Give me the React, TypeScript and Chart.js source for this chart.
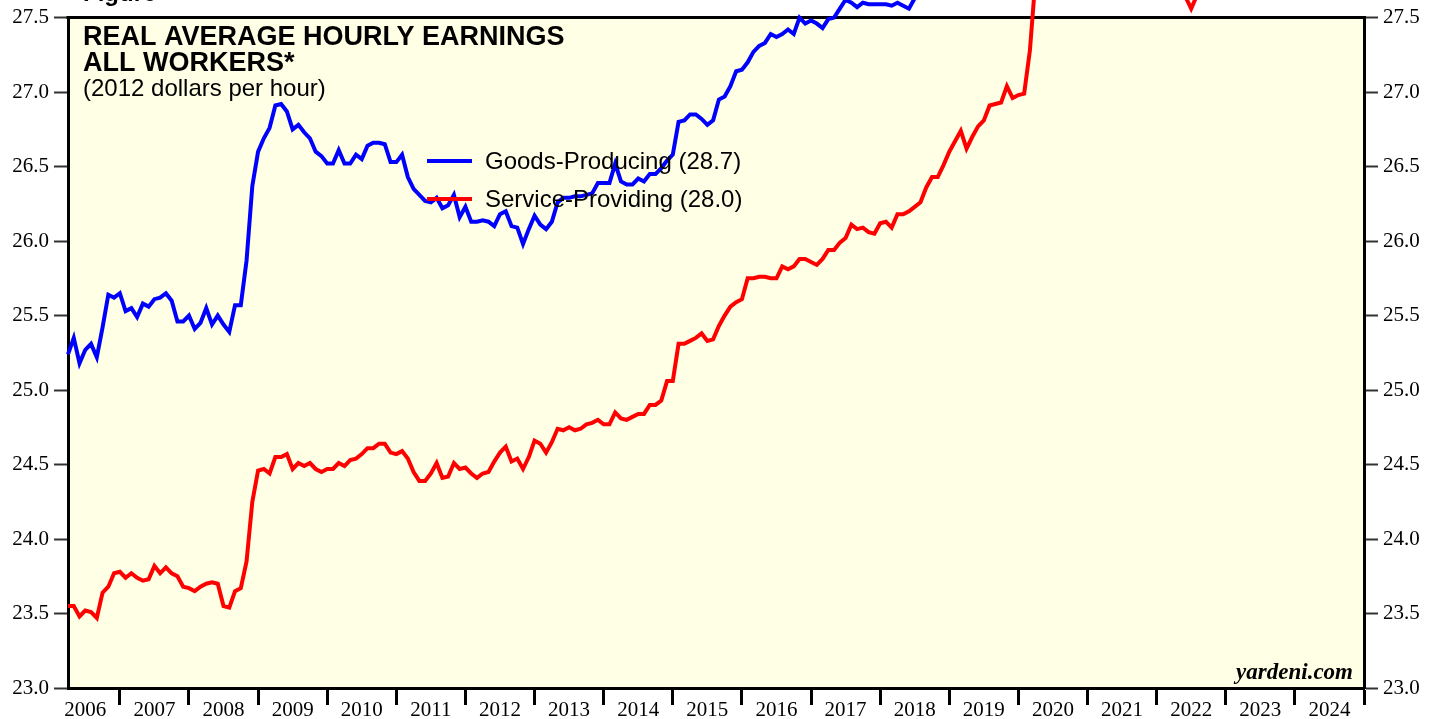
import React, { useEffect, useRef } from 'react';
import { Chart, registerables } from 'chart.js';
Chart.register(...registerables);

// Monthly data, index 0 = March 2006 (month-end), last = Nov 2024
const goodsProducing: number[] = [
  25.24, 25.35, 25.18, 25.27, 25.31, 25.22, 25.42, 25.64, 25.62, 25.65,
  25.53, 25.55, 25.49, 25.58, 25.56, 25.61, 25.62, 25.65, 25.60, 25.46,
  25.46, 25.50, 25.41, 25.45, 25.55, 25.44, 25.50, 25.44, 25.39, 25.57,
  25.57, 25.87, 26.37, 26.60, 26.69, 26.76, 26.91, 26.92, 26.87, 26.75,
  26.78, 26.73, 26.69, 26.60, 26.57, 26.52, 26.52, 26.61, 26.52, 26.52,
  26.58, 26.55, 26.64, 26.66, 26.66, 26.65, 26.53, 26.53, 26.58, 26.43,
  26.35, 26.31, 26.27, 26.26, 26.29, 26.22, 26.24, 26.31, 26.16, 26.23,
  26.13, 26.13, 26.14, 26.13, 26.10, 26.18, 26.20, 26.10, 26.09, 25.98,
  26.08, 26.17, 26.11, 26.08, 26.13, 26.26, 26.29, 26.29, 26.30, 26.30,
  26.31, 26.32, 26.39, 26.39, 26.39, 26.52, 26.40, 26.38, 26.38, 26.42,
  26.40, 26.45, 26.45, 26.49, 26.54, 26.58, 26.80, 26.81, 26.85, 26.85,
  26.82, 26.78, 26.81, 26.95, 26.97, 27.04, 27.14, 27.15, 27.20, 27.27,
  27.31, 27.33, 27.39, 27.37, 27.39, 27.42, 27.39, 27.50, 27.46, 27.48,
  27.46, 27.43, 27.49, 27.50, 27.56, 27.62, 27.60, 27.57, 27.60, 27.59,
  27.59, 27.59, 27.59, 27.58, 27.60, 27.58, 27.56, 27.63, 27.68, 27.70,
  27.66, 27.72, 27.75, 27.74, 27.80, 27.82, 27.78, 27.85, 27.88, 27.86,
  27.92, 27.95, 27.93, 27.98, 28.00, 27.97, 28.05, 28.10, 28.35, 28.95,
  28.70, 28.52, 28.48, 28.45, 28.50, 28.46, 28.48, 28.52, 28.45, 28.40,
  28.30, 28.22, 28.15, 28.12, 28.10, 28.05, 28.02, 27.98, 27.95, 27.92,
  27.90, 27.85, 27.80, 27.82, 27.75, 27.70, 27.76, 27.80, 27.82, 27.84,
  27.86, 27.90, 27.93, 27.95, 27.98, 28.02, 28.05, 28.10, 28.12, 28.15,
  28.20, 28.25, 28.28, 28.32, 28.35, 28.38, 28.42, 28.45, 28.50, 28.52,
  28.55, 28.60, 28.62, 28.66, 28.70,
];

const serviceProviding: number[] = [
  23.55, 23.55, 23.48, 23.52, 23.51, 23.47, 23.64, 23.68, 23.77, 23.78,
  23.74, 23.77, 23.74, 23.72, 23.73, 23.82, 23.77, 23.81, 23.77, 23.75,
  23.68, 23.67, 23.65, 23.68, 23.70, 23.71, 23.70, 23.55, 23.54, 23.65,
  23.67, 23.85, 24.25, 24.46, 24.47, 24.44, 24.55, 24.55, 24.57, 24.47,
  24.51, 24.49, 24.51, 24.47, 24.45, 24.47, 24.47, 24.51, 24.49, 24.53,
  24.54, 24.57, 24.61, 24.61, 24.64, 24.64, 24.58, 24.57, 24.59, 24.54,
  24.45, 24.39, 24.39, 24.44, 24.51, 24.41, 24.42, 24.51, 24.47, 24.48,
  24.44, 24.41, 24.44, 24.45, 24.52, 24.58, 24.62, 24.52, 24.54, 24.47,
  24.55, 24.66, 24.64, 24.58, 24.65, 24.74, 24.73, 24.75, 24.73, 24.74,
  24.77, 24.78, 24.80, 24.77, 24.77, 24.85, 24.81, 24.80, 24.82, 24.84,
  24.84, 24.90, 24.90, 24.93, 25.06, 25.06, 25.31, 25.31, 25.33, 25.35,
  25.38, 25.33, 25.34, 25.43, 25.50, 25.56, 25.59, 25.61, 25.75, 25.75,
  25.76, 25.76, 25.75, 25.75, 25.83, 25.81, 25.83, 25.88, 25.88, 25.86,
  25.84, 25.88, 25.94, 25.94, 25.99, 26.02, 26.11, 26.08, 26.09, 26.06,
  26.05, 26.12, 26.13, 26.09, 26.18, 26.18, 26.20, 26.23, 26.26, 26.36,
  26.43, 26.43, 26.51, 26.60, 26.67, 26.74, 26.62, 26.70, 26.77, 26.81,
  26.91, 26.92, 26.93, 27.04, 26.96, 26.98, 26.99, 27.28, 27.78, 29.30,
  28.90, 28.60, 28.55, 28.50, 28.50, 28.45, 28.45, 28.50, 28.40, 28.20,
  28.10, 28.00, 27.95, 27.92, 27.90, 27.85, 27.80, 27.78, 27.74, 27.72,
  27.70, 27.68, 27.67, 27.66, 27.64, 27.56, 27.65, 27.67, 27.66, 27.68,
  27.70, 27.72, 27.74, 27.73, 27.76, 27.78, 27.80, 27.82, 27.83, 27.85,
  27.86, 27.88, 27.90, 27.92, 27.93, 27.94, 27.95, 27.96, 27.97, 27.98,
  27.98, 27.99, 28.00, 28.00, 28.00,
];

const years: number[] = [
  2006, 2007, 2008, 2009, 2010, 2011, 2012, 2013, 2014, 2015,
  2016, 2017, 2018, 2019, 2020, 2021, 2022, 2023, 2024,
];
const yTickValues: number[] = [23.0, 23.5, 24.0, 24.5, 25.0, 25.5, 26.0, 26.5, 27.0, 27.5];

const seriesNames = ['Goods-Producing (28.7)', 'Service-Providing (28.0)'];
const titleLines = ['REAL AVERAGE HOURLY EARNINGS', 'ALL WORKERS*'];
const subtitle = '(2012 dollars per hour)';

// month index helpers (index 0 = Mar 2006)
const FIRST_YEAR = 2006;
const FIRST_MONTH = 3; // March
const monthIndex = (year: number, month: number) => (year - FIRST_YEAR) * 12 + (month - FIRST_MONTH);
const X_MIN = 0;
const X_MAX = monthIndex(2024, 12);
const yearBoundaries = [...years.slice(1), 2025].map((y) => monthIndex(y - 1, 12));
const yearCenters = years.map((y) => monthIndex(y, 6));

const BLUE = '#0000FF';
const RED = '#FF0000';

export default function App() {
  const ref = useRef<HTMLCanvasElement>(null);
  useEffect(() => {
    document.body.style.margin = '0';
    document.body.style.overflow = 'hidden';
    const canvas = ref.current!;
    const deco = {
      id: 'deco',
      beforeDraw(chart: any) {
        const { ctx, chartArea: a } = chart;
        ctx.save();
        ctx.fillStyle = '#FFFFFF';
        ctx.fillRect(0, 0, chart.width, chart.height);
        ctx.fillStyle = '#FFFFE5';
        ctx.fillRect(a.left, a.top, a.right - a.left, a.bottom - a.top);
        ctx.restore();
      },
      beforeDatasetsDraw(chart: any) {
        const { ctx, chartArea: a } = chart;
        ctx.save();
        ctx.strokeStyle = '#000';
        ctx.lineWidth = 3;
        ctx.beginPath();
        ctx.moveTo(a.left - 1.5, a.top);
        ctx.lineTo(a.right + 1.5, a.top);
        ctx.stroke();
        ctx.restore();
      },
      afterDatasetsDraw(chart: any) {
        const { ctx, chartArea: a } = chart;
        const xs = chart.scales.x;
        ctx.save();
        // "Figure" header cut at top
        ctx.fillStyle = '#000';
        ctx.font = 'bold 24px "Liberation Sans", Arial, sans-serif';
        ctx.textBaseline = 'alphabetic';
        ctx.textAlign = 'left';
        ctx.fillText('Figure', 83, 1);
        // title
        ctx.font = 'bold 27px "Liberation Sans", Arial, sans-serif';
        ctx.fillText(titleLines[0], a.left + 15, 45);
        ctx.fillText(titleLines[1], a.left + 15, 71);
        ctx.font = '24px "Liberation Sans", Arial, sans-serif';
        ctx.fillText(subtitle, a.left + 15, 96);
        // legend
        const colors = [BLUE, RED];
        const ly = [161, 199];
        for (let k = 0; k < 2; k++) {
          ctx.strokeStyle = colors[k];
          ctx.lineWidth = 4;
          ctx.beginPath();
          ctx.moveTo(427, ly[k]);
          ctx.lineTo(472, ly[k]);
          ctx.stroke();
          ctx.fillStyle = '#000';
          ctx.font = '24px "Liberation Sans", Arial, sans-serif';
          ctx.textBaseline = 'middle';
          ctx.fillText(seriesNames[k], 485, ly[k] + 1);
        }
        // yardeni.com
        ctx.textBaseline = 'alphabetic';
        ctx.textAlign = 'right';
        ctx.font = 'bold italic 23px "Liberation Serif", "Times New Roman", serif';
        ctx.fillText('yardeni.com', a.right - 11, 679);
        // year labels
        ctx.textAlign = 'center';
        ctx.font = '21px "Liberation Serif", "Times New Roman", serif';
        years.forEach((y, i) => {
          ctx.fillText(String(y), xs.getPixelForValue(yearCenters[i]), 716);
        });
        ctx.restore();
      },
    };

    const yAxis = (position: 'left' | 'right', width: number) => ({
      type: 'linear' as const,
      position,
      min: 23,
      max: 27.5,
      afterBuildTicks: (s: any) => {
        s.ticks = yTickValues.map((v) => ({ value: v }));
      },
      afterFit: (s: any) => {
        s.width = width;
      },
      ticks: {
        callback: (v: any) => Number(v).toFixed(1),
        font: { family: '"Liberation Serif", "Times New Roman", serif', size: 21 },
        color: '#000',
        padding: 5,
      },
      grid: {
        drawOnChartArea: false,
        drawTicks: true,
        tickLength: 14,
        tickWidth: 2,
        tickColor: '#333',
      },
      border: { display: true, width: 3, color: '#000' },
    });

    const chart = new Chart(canvas, {
      type: 'line',
      data: {
        datasets: [
          {
            label: 'Goods-Producing',
            data: goodsProducing.map((v, i) => ({ x: i, y: v })),
            borderColor: BLUE,
            borderWidth: 4,
            pointRadius: 0,
            tension: 0,
            clip: false as any,
            yAxisID: 'y',
          },
          {
            label: 'Service-Providing',
            data: serviceProviding.map((v, i) => ({ x: i, y: v })),
            borderColor: RED,
            borderWidth: 4,
            pointRadius: 0,
            tension: 0,
            clip: false as any,
            yAxisID: 'y',
          },
        ],
      },
      options: {
        responsive: false,
        animation: false,
        layout: { padding: { top: 16, left: 0, right: 0, bottom: 0 } },
        plugins: { legend: { display: false }, tooltip: { enabled: false } },
        scales: {
          x: {
            type: 'linear',
            min: X_MIN,
            max: X_MAX,
            afterBuildTicks: (s: any) => {
              s.ticks = yearBoundaries.map((v) => ({ value: v }));
            },
            afterFit: (s: any) => {
              s.height = 31;
            },
            ticks: { display: false },
            grid: {
              drawOnChartArea: false,
              drawTicks: true,
              tickLength: 17,
              tickWidth: 3,
              tickColor: '#000',
            },
            border: { display: true, width: 3, color: '#000' },
          },
          y: yAxis('left', 68),
          y1: yAxis('right', 77),
        } as any,
      },
      plugins: [deco],
    });
    return () => chart.destroy();
  }, []);
  return (
    <div style={{ position: 'absolute', left: 0, top: 0, width: 1441, height: 719 }}>
      <canvas ref={ref} width={1441} height={719} style={{ display: 'block' }} />
    </div>
  );
}
